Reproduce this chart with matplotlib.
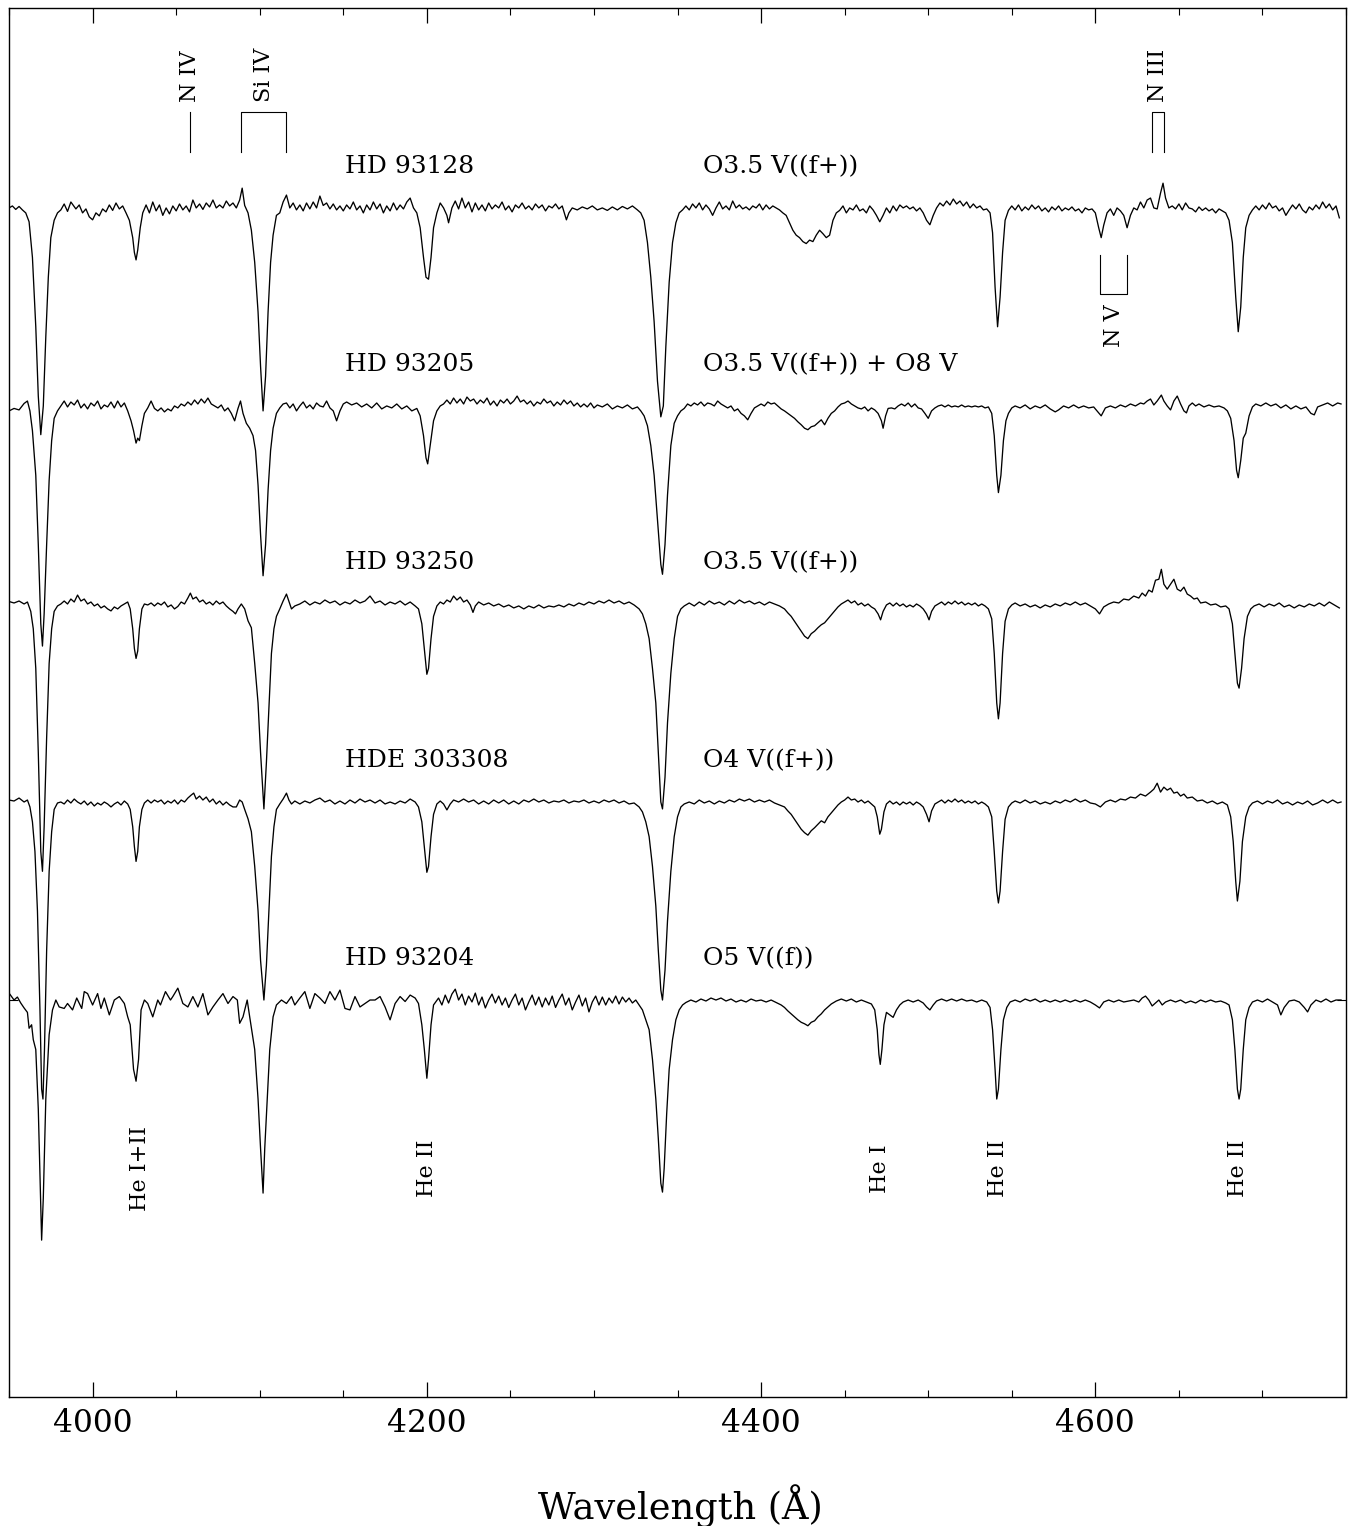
import matplotlib
matplotlib.use("Agg")
import matplotlib.pyplot as plt
from matplotlib.ticker import MultipleLocator, FixedLocator

# normalised spectra, (wavelength in A, flux)
hd93128 = [
    (3950, 1.000), (3952, 1.004), (3954, 0.997), (3956, 1.003), (3958, 0.996), (3960, 0.990),
    (3962, 0.972), (3964, 0.90), (3966, 0.76), (3967.5, 0.62), (3969, 0.542), (3970.5, 0.60),
    (3972, 0.74), (3973.5, 0.86), (3975, 0.94), (3977, 0.975), (3979, 0.99),
    (3981, 0.996), (3983, 1.008), (3985, 0.993), (3987, 1.012), (3990, 0.998), (3992, 1.006),
    (3994, 0.99), (3996, 0.998), (3998, 0.982), (4000, 0.976), (4002, 0.99), (4004, 0.984),
    (4006, 0.998), (4008, 0.992), (4010, 1.006), (4012, 0.995), (4014, 1.01), (4016, 0.998),
    (4018, 1.004), (4020, 0.99),
    (4022, 0.975), (4024, 0.94), (4025, 0.91), (4026, 0.895), (4027, 0.915), (4028.5, 0.96), (4030, 0.99),
    (4032, 1.006), (4034, 0.99), (4036, 1.012), (4038, 0.994), (4040, 1.006), (4042, 0.985),
    (4044, 1.0), (4046, 0.988), (4048, 1.004), (4050, 0.994), (4052, 1.008), (4054, 0.996),
    (4056, 1.004), (4058, 0.992), (4060, 1.016), (4062, 1.0), (4064, 1.008), (4066, 0.997),
    (4068, 1.01), (4070, 1.002), (4072, 1.016), (4074, 1.0), (4076, 1.006), (4078, 1.0),
    (4080, 1.014), (4082, 1.004), (4084, 1.01), (4086, 1.0), (4088, 1.016), (4089.5, 1.04), (4091, 1.005),
    (4093, 0.99), (4095, 0.955), (4097, 0.89), (4099, 0.79), (4100.5, 0.68), (4102, 0.59),
    (4103.5, 0.66), (4105, 0.79), (4106.5, 0.89), (4108, 0.945), (4110, 0.985), (4112, 0.99),
    (4114, 1.012), (4116, 1.026), (4118, 1.0),
    (4120, 1.01), (4122, 0.996), (4124, 1.006), (4126, 0.994), (4128, 1.01), (4130, 0.998),
    (4132, 1.012), (4134, 1.0), (4136, 1.024), (4138, 1.005), (4140, 1.01), (4142, 0.998),
    (4144, 1.008), (4146, 0.996), (4148, 1.004), (4150, 0.994), (4152, 1.006), (4154, 0.998),
    (4156, 1.012), (4158, 0.996), (4160, 1.004), (4162, 0.99), (4164, 1.006), (4166, 0.996),
    (4168, 1.012), (4170, 0.998), (4172, 1.008), (4174, 0.99), (4176, 1.004), (4178, 0.994),
    (4180, 1.01), (4182, 0.996), (4184, 1.006), (4186, 0.998), (4188, 1.012), (4190, 1.02),
    (4192, 1.0), (4194, 0.99),
    (4196, 0.96), (4198, 0.9), (4199.5, 0.86), (4201, 0.856), (4202.5, 0.9), (4204, 0.96), (4206, 0.99),
    (4208, 1.01), (4210, 1.0), (4212, 0.985), (4213, 0.97), (4215, 1.0), (4217, 1.014),
    (4219, 0.998), (4221, 1.02), (4223, 1.0), (4225, 1.012), (4227, 0.992), (4229, 1.01),
    (4231, 0.996), (4233, 1.006), (4235, 0.994), (4237, 1.01), (4239, 0.998), (4241, 1.006),
    (4243, 1.0), (4245, 1.012), (4247, 0.996), (4249, 1.004), (4251, 0.992), (4253, 1.006),
    (4255, 1.0), (4257, 1.01), (4259, 0.998), (4261, 1.004), (4263, 0.996), (4265, 1.008),
    (4267, 1.0), (4269, 1.006), (4271, 0.994), (4273, 1.004), (4275, 1.0), (4277, 1.008),
    (4279, 0.998), (4281, 1.004), (4283.5, 0.976), (4285, 0.99), (4287, 1.0), (4290, 0.996),
    (4293, 1.002), (4296, 0.998), (4299, 1.004), (4302, 0.996), (4305, 1.0), (4308, 0.995),
    (4311, 1.002), (4314, 0.996), (4317, 1.003), (4320, 0.998), (4323, 1.004), (4326, 0.996), (4328, 0.99),
    (4330, 0.975), (4332, 0.93), (4334, 0.86), (4336, 0.77), (4338, 0.65), (4340, 0.578),
    (4341.5, 0.60), (4343, 0.72), (4345, 0.85), (4347, 0.93), (4349, 0.97), (4351, 0.99), (4353, 0.996),
    (4355, 1.004), (4357, 0.996), (4359, 1.008), (4361, 1.0), (4363, 1.01), (4365, 0.996),
    (4367, 1.006), (4369, 0.998), (4371, 0.985), (4373, 1.0), (4375, 1.012), (4377, 0.998),
    (4379, 1.004), (4381, 0.996), (4383, 1.014), (4385, 1.0), (4387, 1.006), (4389, 0.998),
    (4391, 1.002), (4393, 0.996), (4395, 1.004), (4397, 1.0), (4399, 1.008), (4401, 0.996),
    (4403, 1.006), (4405, 0.998), (4407, 1.004), (4409, 1.0), (4411, 0.996), (4413, 0.99),
    (4415, 0.985), (4417, 0.97), (4419, 0.955), (4421, 0.945), (4423, 0.94), (4425, 0.932),
    (4427, 0.928), (4429, 0.935), (4431, 0.932), (4433, 0.945), (4435, 0.955), (4437, 0.948),
    (4439, 0.94), (4441, 0.945), (4443, 0.975), (4445, 0.99),
    (4447, 0.995), (4449, 1.004), (4451, 0.99), (4453, 1.0), (4455, 0.996), (4457, 1.006),
    (4459, 0.994), (4461, 0.998), (4463, 0.99), (4465, 1.004), (4467, 0.996), (4469, 0.985),
    (4471, 0.972), (4473, 0.985), (4475, 1.0), (4477, 0.99), (4479, 1.004), (4481, 0.994),
    (4483, 1.006), (4485, 1.0), (4487, 1.004), (4489, 0.998), (4491, 1.002), (4493, 0.994),
    (4495, 1.0), (4497, 0.99), (4499, 0.975), (4501, 0.966), (4503, 0.985), (4505, 1.0),
    (4507, 1.01), (4509, 1.004), (4511, 1.014), (4513, 1.006), (4515, 1.018), (4517, 1.008),
    (4519, 1.014), (4521, 1.004), (4523, 1.012), (4525, 1.0), (4527, 1.008), (4529, 1.0),
    (4531, 1.004), (4533, 0.996), (4535, 0.998),
    (4537, 0.99), (4538.5, 0.95), (4540, 0.84), (4541.5, 0.76), (4543, 0.82), (4544.5, 0.91),
    (4546, 0.975), (4548, 0.995),
    (4550, 1.004), (4552, 0.996), (4554, 1.006), (4556, 0.994), (4558, 1.002), (4560, 0.996),
    (4562, 1.006), (4564, 0.998), (4566, 1.004), (4568, 0.994), (4570, 1.0), (4572, 0.992),
    (4574, 1.002), (4576, 0.996), (4578, 1.004), (4580, 0.994), (4582, 1.0), (4584, 0.996),
    (4586, 1.002), (4588, 0.994), (4590, 0.998), (4592, 0.99), (4594, 1.0), (4596, 0.996),
    (4598, 0.998), (4600, 0.99),
    (4602, 0.96), (4603.5, 0.94), (4605, 0.965), (4607, 0.99), (4609, 0.998), (4611, 0.985),
    (4613, 1.0), (4615, 0.994), (4617, 0.985), (4619, 0.96), (4621, 0.985), (4623, 1.0),
    (4625, 0.996), (4627, 1.012), (4629, 1.0), (4631, 1.016), (4633, 1.02), (4635, 1.0),
    (4637, 0.998), (4639, 1.03), (4640.5, 1.05), (4642, 1.02), (4644, 1.0), (4646, 1.004),
    (4648, 0.998), (4650, 1.008), (4652, 0.996), (4654, 1.01), (4656, 1.0), (4658, 0.998),
    (4660, 0.992), (4662, 1.002), (4664, 0.995), (4666, 1.0), (4668, 0.994), (4670, 0.998),
    (4672, 0.99), (4674, 0.998), (4676, 0.994), (4678, 0.99),
    (4680, 0.975), (4682, 0.93), (4684, 0.82), (4685.5, 0.75), (4687, 0.8), (4688.5, 0.9),
    (4690, 0.96), (4692, 0.985), (4694, 0.996),
    (4696, 1.004), (4698, 0.996), (4700, 1.006), (4702, 0.998), (4704, 1.01), (4706, 1.0),
    (4708, 1.004), (4710, 0.994), (4712, 1.0), (4714, 0.985), (4716, 0.996), (4718, 1.006),
    (4720, 0.998), (4722, 1.008), (4724, 0.996), (4726, 0.99), (4728, 1.002), (4730, 0.996),
    (4732, 1.006), (4734, 0.998), (4736, 1.012), (4738, 1.0), (4740, 1.008), (4742, 0.996),
    (4744, 1.004), (4746, 0.98),
]

hd93205 = [
    (3950, 0.99), (3953, 0.995), (3956, 0.992), (3959, 1.005), (3961, 1.01), (3962.5, 0.99),
    (3964, 0.95), (3966, 0.86), (3967.5, 0.72), (3969, 0.56), (3970, 0.515), (3971, 0.58),
    (3972.5, 0.72), (3974, 0.85), (3975.5, 0.93), (3977, 0.975), (3979, 0.99), (3981, 1.0),
    (3983, 1.01), (3985, 0.998), (3987, 1.008), (3989, 1.002), (3991, 1.012), (3993, 0.996),
    (3995, 1.004), (3997, 0.994), (3999, 1.006), (4001, 1.0), (4003, 1.01), (4005, 0.994),
    (4007, 1.002), (4009, 0.998), (4011, 1.008), (4013, 0.996), (4015, 1.01), (4017, 0.998),
    (4019, 1.006), (4021, 0.99),
    (4023, 0.97), (4024.5, 0.95), (4026, 0.925), (4027, 0.935), (4028, 0.93), (4029.5, 0.96),
    (4031, 0.985), (4033, 0.996), (4035, 1.01),
    (4037, 0.995), (4039, 0.99), (4041, 0.996), (4043, 0.988), (4045, 0.994), (4047, 0.99),
    (4049, 1.0), (4051, 0.996), (4053, 1.004), (4055, 1.0), (4057, 1.008), (4059, 1.002),
    (4061, 1.012), (4063, 1.004), (4065, 1.014), (4067, 1.006), (4069, 1.016), (4071, 1.004),
    (4073, 1.0), (4075, 0.996), (4077, 1.002), (4079, 0.99), (4081, 0.996), (4083, 0.985),
    (4085, 0.97), (4087, 0.995), (4088.5, 1.01),
    (4090, 0.985), (4092, 0.965), (4094, 0.955), (4096, 0.94), (4097.5, 0.91), (4099, 0.84),
    (4100.5, 0.74), (4102, 0.657), (4103.5, 0.72), (4105, 0.83), (4106.5, 0.91), (4108, 0.955),
    (4110, 0.985), (4112, 0.996), (4114, 1.004), (4116, 1.006),
    (4118, 0.996), (4120, 1.004), (4122, 0.99), (4124, 1.0), (4126, 1.008), (4128, 0.996),
    (4130, 1.002), (4132, 0.994), (4134, 1.006), (4136, 1.0), (4138, 0.998), (4140, 1.01),
    (4142, 0.996), (4144, 0.99), (4146, 0.97), (4148, 0.99), (4150, 1.004), (4152, 1.008),
    (4155, 1.002), (4158, 1.006), (4161, 0.998), (4164, 1.004), (4167, 0.996), (4170, 1.006),
    (4173, 0.994), (4176, 1.0), (4179, 0.996), (4182, 1.004), (4185, 0.994), (4188, 1.0),
    (4191, 0.99), (4194, 0.995),
    (4196, 0.98), (4198, 0.94), (4199.5, 0.895), (4200.5, 0.883), (4202, 0.92), (4204, 0.97),
    (4206, 0.99), (4208, 1.0), (4210, 1.004),
    (4212, 1.012), (4214, 1.004), (4216, 1.016), (4218, 1.006), (4220, 1.014), (4222, 1.004),
    (4224, 1.018), (4226, 1.01), (4228, 1.014), (4230, 1.004), (4232, 1.012), (4234, 1.006),
    (4236, 1.016), (4238, 1.002), (4240, 1.01), (4242, 1.0), (4244, 1.012), (4246, 1.006),
    (4248, 1.014), (4250, 1.004), (4252, 1.01), (4254, 1.02), (4256, 1.008), (4258, 1.012),
    (4260, 1.004), (4262, 1.01), (4264, 1.0), (4266, 1.008), (4268, 1.004), (4270, 1.014),
    (4272, 1.006), (4274, 1.01), (4276, 1.0), (4278, 1.008), (4280, 1.002), (4282, 1.012),
    (4284, 1.004), (4286, 1.01), (4288, 1.0), (4290, 1.006), (4292, 0.998), (4294, 1.004),
    (4296, 0.998), (4298, 1.006), (4300, 0.996), (4302, 1.002), (4305, 0.998), (4308, 1.004),
    (4311, 0.994), (4314, 1.0), (4317, 0.996), (4320, 1.002), (4323, 0.994), (4326, 0.998), (4328, 0.99),
    (4330, 0.98), (4332, 0.96), (4334, 0.92), (4336, 0.86), (4338, 0.77), (4340, 0.68),
    (4341, 0.66), (4342.5, 0.72), (4344, 0.82), (4346, 0.92), (4348, 0.965), (4350, 0.98),
    (4352, 0.99), (4354, 0.995),
    (4356, 1.004), (4358, 1.0), (4360, 1.006), (4362, 1.002), (4364, 1.008), (4366, 1.0),
    (4368, 1.006), (4370, 1.004), (4372, 1.0), (4374, 1.01), (4376, 1.004), (4378, 1.0),
    (4380, 0.996), (4382, 1.0), (4384, 0.99), (4386, 0.994), (4388, 0.985), (4390, 0.98),
    (4392, 0.972), (4394, 0.985), (4396, 0.996), (4398, 1.0), (4400, 1.004), (4402, 1.0),
    (4404, 1.008), (4406, 1.004), (4408, 1.006), (4410, 1.0), (4412, 0.994),
    (4414, 0.99), (4416, 0.985), (4418, 0.98), (4420, 0.975), (4422, 0.968), (4424, 0.962),
    (4426, 0.955), (4428, 0.952), (4430, 0.958), (4432, 0.96), (4434, 0.966), (4436, 0.972),
    (4438, 0.962), (4440, 0.975), (4442, 0.985), (4444, 0.99), (4446, 0.998), (4448, 1.004),
    (4450, 1.006), (4452, 1.01), (4454, 1.004), (4456, 1.0), (4458, 0.996), (4460, 0.994),
    (4462, 0.998), (4464, 0.99), (4466, 0.996), (4468, 0.992), (4470, 0.985), (4472, 0.97),
    (4473, 0.955), (4474.5, 0.98), (4476, 0.995), (4478, 0.996), (4480, 0.994), (4482, 1.0),
    (4484, 1.004), (4486, 1.0), (4488, 1.006), (4490, 0.998), (4492, 1.004), (4494, 0.996),
    (4496, 0.994), (4498, 0.985), (4500, 0.975), (4502, 0.99), (4504, 0.996), (4506, 1.0),
    (4508, 1.002), (4510, 0.998), (4512, 1.002), (4514, 0.998), (4516, 1.0), (4518, 0.998),
    (4520, 1.002), (4522, 0.998), (4524, 1.0), (4526, 0.998), (4528, 1.0), (4530, 0.998),
    (4532, 1.0), (4534, 0.996), (4536, 0.998),
    (4538, 0.985), (4539.5, 0.94), (4541, 0.86), (4542, 0.825), (4543.5, 0.86), (4545, 0.93),
    (4546.5, 0.97), (4548, 0.985), (4550, 0.996),
    (4552, 1.0), (4555, 0.996), (4558, 1.002), (4561, 0.994), (4564, 1.0), (4567, 0.996),
    (4570, 1.002), (4573, 0.994), (4576, 0.988), (4578, 0.992), (4581, 1.0), (4584, 0.996),
    (4587, 1.002), (4590, 0.996), (4593, 1.0), (4596, 0.996), (4599, 0.998), (4601, 0.99),
    (4603.5, 0.98), (4606, 0.996), (4609, 1.0), (4612, 0.996), (4615, 1.002), (4618, 0.998),
    (4621, 1.004), (4624, 1.0), (4627, 1.006),
    (4629, 1.004), (4631, 1.01), (4633, 1.014), (4635, 1.002), (4637, 1.01), (4639.5, 1.022),
    (4641, 1.01), (4643, 1.0), (4645, 0.992), (4647, 1.01), (4649, 1.02), (4651, 1.004),
    (4653, 0.99), (4654.5, 0.986), (4656, 1.0), (4658, 1.006), (4660, 1.0), (4662, 1.004),
    (4665, 0.998), (4668, 1.002), (4671, 0.998), (4674, 1.0), (4677, 0.996), (4679, 0.99),
    (4681, 0.975), (4683, 0.93), (4684.5, 0.87), (4685.5, 0.855), (4687, 0.89), (4688.5, 0.935),
    (4690, 0.945), (4692, 0.98), (4694, 0.998),
    (4696, 1.004), (4699, 1.0), (4702, 1.006), (4705, 1.0), (4708, 1.004), (4711, 0.996),
    (4714, 1.002), (4717, 0.994), (4720, 1.0), (4723, 0.994), (4726, 0.998), (4729, 0.985),
    (4731, 0.982), (4733, 0.998), (4736, 1.002), (4739, 1.006), (4742, 1.0), (4745, 1.006), (4747, 1.004),
]

hd93250 = [
    (3950, 1.005), (3953, 1.002), (3956, 1.006), (3959, 1.0), (3961, 1.004), (3963, 0.985),
    (3964.5, 0.95), (3966, 0.87), (3967.5, 0.7), (3969, 0.5), (3970, 0.46), (3971, 0.55),
    (3972.5, 0.73), (3974, 0.88), (3975.5, 0.95), (3977, 0.985), (3979, 0.996),
    (3981, 1.0), (3983, 1.006), (3985, 1.0), (3987, 1.01), (3989, 1.004), (3991, 1.018),
    (3993, 1.006), (3995, 1.01), (3997, 1.0), (3999, 1.004), (4001, 0.996), (4003, 1.0),
    (4005, 0.992), (4007, 0.996), (4009, 0.99), (4011, 0.986), (4013, 0.994), (4015, 0.99),
    (4017, 0.996), (4019, 1.0), (4021, 1.004), (4022.5, 0.99),
    (4024, 0.95), (4025, 0.91), (4026, 0.89), (4027, 0.905), (4028, 0.95), (4029.5, 0.99), (4031, 1.0),
    (4033, 0.998), (4035, 1.002), (4037, 0.996), (4039, 1.002), (4041, 0.998), (4043, 1.004),
    (4045, 0.994), (4047, 0.998), (4049, 0.99), (4051, 0.995), (4053, 1.004), (4055, 1.0),
    (4057, 1.012), (4058.5, 1.022), (4060, 1.01), (4062, 1.014), (4064, 1.004), (4066, 1.008),
    (4068, 1.0), (4070, 1.004), (4072, 0.998), (4074, 1.006), (4076, 1.0), (4078, 1.004),
    (4080, 0.996), (4082, 0.99), (4084, 0.985), (4085.5, 0.98), (4087, 0.99), (4089, 1.0),
    (4091, 0.99), (4093, 0.966), (4095, 0.952), (4097, 0.88), (4099, 0.8), (4100.5, 0.7),
    (4102.5, 0.586), (4104, 0.68), (4105.5, 0.79), (4107, 0.9), (4108.5, 0.95), (4110, 0.975),
    (4112, 0.99), (4114, 1.006), (4116, 1.02), (4117.5, 1.005), (4119, 0.99),
    (4121, 0.996), (4124, 1.0), (4127, 1.006), (4130, 0.998), (4133, 1.004), (4136, 1.0),
    (4139, 1.008), (4142, 1.002), (4145, 1.006), (4148, 0.998), (4151, 1.004), (4154, 1.0),
    (4157, 1.008), (4160, 1.002), (4163, 1.006), (4166, 1.016), (4169, 1.002), (4172, 1.006),
    (4175, 0.998), (4178, 1.004), (4181, 1.0), (4184, 1.006), (4187, 0.998), (4190, 1.004),
    (4193, 0.996), (4195, 0.99),
    (4197, 0.96), (4198.5, 0.91), (4200, 0.858), (4201, 0.87), (4202.5, 0.93), (4204, 0.975), (4206, 0.996),
    (4208, 1.004), (4210, 1.0), (4212, 1.008), (4214, 1.004), (4216, 1.016), (4218, 1.008),
    (4220, 1.014), (4222, 1.004), (4224, 1.008), (4226, 0.998), (4227.6, 0.983), (4229, 0.996),
    (4231, 1.004), (4234, 0.998), (4237, 1.002), (4240, 0.996), (4243, 1.0), (4246, 0.994),
    (4249, 0.998), (4252, 0.992), (4255, 0.996), (4258, 0.99), (4261, 0.996), (4264, 0.992),
    (4267, 0.998), (4270, 0.992), (4273, 0.996), (4276, 0.994), (4279, 0.998), (4282, 0.994),
    (4285, 1.0), (4288, 0.996), (4291, 1.002), (4294, 0.998), (4297, 1.004), (4300, 1.0),
    (4303, 1.006), (4306, 1.002), (4309, 1.008), (4312, 1.002), (4315, 1.006), (4318, 1.0),
    (4321, 1.004), (4324, 0.998), (4327, 0.99),
    (4329, 0.98), (4331, 0.96), (4333, 0.93), (4335, 0.87), (4337, 0.8), (4338.5, 0.7),
    (4340, 0.6), (4341, 0.586), (4342.5, 0.65), (4344, 0.76), (4346, 0.86), (4348, 0.93),
    (4350, 0.975), (4352, 0.99), (4354, 0.996),
    (4357, 1.002), (4360, 0.996), (4363, 1.004), (4366, 0.998), (4369, 1.006), (4372, 1.0),
    (4375, 1.004), (4378, 0.998), (4381, 1.006), (4384, 1.0), (4387, 1.008), (4390, 1.002),
    (4393, 1.006), (4396, 1.0), (4399, 1.004), (4402, 0.998), (4405, 1.004), (4408, 1.0),
    (4411, 0.996), (4414, 0.99),
    (4416, 0.982), (4418, 0.975), (4420, 0.965), (4422, 0.955), (4424, 0.945), (4426, 0.935),
    (4428, 0.93), (4430, 0.94), (4432, 0.945), (4434, 0.952), (4436, 0.958), (4438, 0.962),
    (4440, 0.97), (4442, 0.978), (4444, 0.986), (4446, 0.994), (4448, 1.0), (4450, 1.004),
    (4452, 1.008), (4454, 1.002), (4456, 1.006), (4458, 0.998), (4460, 1.002), (4462, 0.996),
    (4464, 1.0), (4466, 0.994), (4468, 0.99), (4470, 0.98), (4471.5, 0.968), (4473, 0.985),
    (4475, 0.998), (4477, 1.002), (4479, 0.996), (4481, 1.002), (4483, 0.996), (4485, 1.0),
    (4487, 0.994), (4489, 0.998), (4491, 0.994), (4493, 1.0), (4495, 0.996), (4497, 0.99),
    (4499, 0.98), (4500.5, 0.968), (4502, 0.985), (4504, 0.996), (4506, 1.0), (4508, 1.004),
    (4510, 0.998), (4512, 1.004), (4514, 1.0), (4516, 1.006), (4518, 1.0), (4520, 1.004),
    (4522, 0.998), (4524, 1.002), (4526, 0.998), (4528, 1.002), (4530, 0.996), (4532, 1.0),
    (4534, 0.996), (4536, 0.99),
    (4538, 0.97), (4539.5, 0.9), (4541, 0.8), (4542, 0.768), (4543, 0.8), (4544.5, 0.9),
    (4546, 0.965), (4548, 0.99), (4550, 0.998),
    (4552, 1.002), (4555, 0.996), (4558, 1.0), (4561, 0.994), (4564, 0.998), (4567, 0.992),
    (4570, 0.998), (4573, 0.994), (4576, 1.0), (4579, 0.996), (4582, 1.002), (4585, 0.998),
    (4588, 1.004), (4591, 0.998), (4594, 1.002), (4597, 0.996), (4600, 0.99), (4602.5, 0.98),
    (4605, 0.994), (4608, 1.0), (4611, 1.004), (4614, 1.002), (4617, 1.01), (4620, 1.008),
    (4623, 1.016), (4626, 1.012), (4628, 1.022), (4630, 1.016), (4632, 1.028), (4634, 1.024),
    (4636, 1.048), (4638, 1.05), (4639.5, 1.07), (4641, 1.04), (4643, 1.03), (4645, 1.04),
    (4647, 1.05), (4649, 1.03), (4651, 1.026), (4653, 1.034), (4655, 1.02), (4657, 1.016),
    (4659, 1.01), (4661, 1.012), (4663, 1.002), (4666, 1.004), (4669, 0.998), (4672, 1.0),
    (4675, 0.994), (4678, 0.996), (4680, 0.99),
    (4682, 0.96), (4683.5, 0.9), (4685, 0.84), (4686, 0.83), (4687.5, 0.87), (4689, 0.93),
    (4691, 0.975), (4693, 0.99), (4695, 0.996),
    (4698, 1.0), (4701, 0.994), (4704, 1.0), (4707, 0.996), (4710, 1.002), (4713, 0.994),
    (4716, 0.998), (4719, 0.992), (4722, 0.998), (4725, 0.994), (4728, 1.0), (4731, 0.996),
    (4734, 1.002), (4737, 0.996), (4740, 1.004), (4743, 0.998), (4746, 0.992),
]

hde303308 = [
    (3950, 1.004), (3953, 1.002), (3956, 1.008), (3959, 1.0), (3961, 1.004), (3962.5, 0.99),
    (3964, 0.96), (3965.5, 0.9), (3967, 0.78), (3968.5, 0.58), (3969.5, 0.42), (3970.3, 0.40),
    (3971.2, 0.5), (3972.5, 0.7), (3974, 0.86), (3975.5, 0.94), (3977, 0.985), (3979, 0.998),
    (3981, 1.0), (3983, 0.996), (3985, 1.004), (3987, 0.998), (3989, 1.006), (3991, 1.0),
    (3993, 0.996), (3995, 1.002), (3997, 0.994), (3999, 1.0), (4001, 0.992), (4003, 0.998),
    (4005, 0.994), (4007, 1.0), (4009, 0.996), (4011, 0.99), (4013, 0.996), (4015, 1.0),
    (4017, 0.994), (4019, 1.002), (4021, 0.996), (4022.5, 0.985),
    (4024, 0.95), (4025, 0.91), (4026, 0.88), (4027, 0.9), (4028, 0.95), (4029.5, 0.985), (4031, 0.998),
    (4033, 1.004), (4035, 0.998), (4037, 1.004), (4039, 1.0), (4041, 1.004), (4043, 0.996),
    (4045, 1.002), (4047, 0.998), (4049, 1.004), (4051, 0.996), (4053, 1.004), (4055, 1.0),
    (4057, 1.008), (4059, 1.014), (4060.5, 1.018), (4062, 1.006), (4064, 1.012), (4066, 1.004),
    (4068, 1.01), (4070, 1.0), (4072, 1.006), (4074, 0.996), (4076, 1.002), (4078, 0.994),
    (4080, 1.0), (4082, 0.994), (4084, 0.99), (4086, 0.99), (4088, 1.004), (4089.5, 1.0),
    (4091, 0.985), (4093, 0.966), (4095, 0.94), (4097, 0.87), (4099, 0.78), (4100.5, 0.68),
    (4102.5, 0.6), (4104, 0.67), (4105.5, 0.78), (4107, 0.89), (4108.5, 0.95), (4110, 0.985),
    (4112, 0.996), (4114, 1.006), (4116, 1.018), (4117.5, 1.004), (4119, 0.996),
    (4121, 1.002), (4124, 0.996), (4127, 1.002), (4130, 0.998), (4133, 1.004), (4136, 1.008),
    (4139, 1.0), (4142, 1.004), (4145, 0.996), (4148, 1.002), (4151, 0.996), (4154, 1.004),
    (4157, 0.998), (4160, 1.006), (4163, 1.0), (4166, 1.004), (4169, 0.998), (4172, 1.004),
    (4175, 0.996), (4178, 1.0), (4181, 0.996), (4184, 1.002), (4187, 0.998), (4190, 1.006),
    (4193, 1.0), (4195, 0.99),
    (4197, 0.96), (4198.5, 0.91), (4200, 0.858), (4201, 0.87), (4202.5, 0.93), (4204, 0.975), (4206, 0.996),
    (4208, 1.002), (4210, 0.996), (4212, 0.984), (4214, 0.996), (4216, 1.004), (4219, 1.0),
    (4222, 1.006), (4225, 1.0), (4228, 1.004), (4231, 0.996), (4234, 1.002), (4237, 0.996),
    (4240, 1.004), (4243, 0.998), (4246, 1.004), (4249, 0.996), (4252, 1.002), (4255, 0.996),
    (4258, 1.004), (4261, 1.0), (4264, 1.006), (4267, 1.0), (4270, 1.004), (4273, 0.998),
    (4276, 1.002), (4279, 1.0), (4282, 1.004), (4285, 0.998), (4288, 1.002), (4291, 1.0),
    (4294, 1.004), (4297, 0.998), (4300, 1.002), (4303, 0.998), (4306, 1.004), (4309, 1.0),
    (4312, 1.004), (4315, 0.998), (4318, 1.002), (4321, 0.996), (4324, 0.998), (4327, 0.99),
    (4329, 0.98), (4331, 0.96), (4333, 0.93), (4335, 0.87), (4337, 0.79), (4338.5, 0.7),
    (4340, 0.62), (4341, 0.60), (4342.5, 0.66), (4344, 0.76), (4346, 0.86), (4348, 0.93),
    (4350, 0.97), (4352, 0.99), (4354, 0.996),
    (4357, 1.0), (4360, 0.996), (4363, 1.004), (4366, 0.998), (4369, 1.002), (4372, 0.996),
    (4375, 1.002), (4378, 0.998), (4381, 1.004), (4384, 1.0), (4387, 1.006), (4390, 1.002),
    (4393, 1.006), (4396, 1.0), (4399, 1.004), (4402, 1.0), (4405, 1.004), (4408, 0.998),
    (4411, 0.994), (4414, 0.99),
    (4416, 0.982), (4418, 0.975), (4420, 0.965), (4422, 0.955), (4424, 0.945), (4426, 0.938),
    (4428, 0.933), (4430, 0.942), (4432, 0.948), (4434, 0.955), (4436, 0.962), (4438, 0.958),
    (4440, 0.97), (4442, 0.978), (4444, 0.986), (4446, 0.994), (4448, 1.0), (4450, 1.004),
    (4452, 1.01), (4454, 1.004), (4456, 1.006), (4458, 1.0), (4460, 1.004), (4462, 0.998),
    (4464, 1.002), (4466, 0.996), (4468, 0.99), (4469.5, 0.97), (4471, 0.935), (4472, 0.945),
    (4473.5, 0.98), (4475, 0.996), (4477, 1.002), (4479, 0.996), (4481, 1.0), (4483, 0.994),
    (4485, 1.0), (4487, 0.996), (4489, 1.0), (4491, 0.994), (4493, 1.0), (4495, 0.996),
    (4497, 0.99), (4499, 0.975), (4500.5, 0.96), (4502, 0.982), (4504, 0.996), (4506, 1.0),
    (4508, 1.004), (4510, 0.998), (4512, 1.004), (4514, 1.0), (4516, 1.006), (4518, 1.0),
    (4520, 1.004), (4522, 0.998), (4524, 1.002), (4526, 0.998), (4528, 1.002), (4530, 0.996),
    (4532, 1.0), (4534, 0.996), (4536, 0.99),
    (4538, 0.97), (4539.5, 0.9), (4541, 0.82), (4542, 0.796), (4543, 0.82), (4544.5, 0.9),
    (4546, 0.965), (4548, 0.99), (4550, 0.998),
    (4552, 1.002), (4555, 0.998), (4558, 1.004), (4561, 0.998), (4564, 1.002), (4567, 0.996),
    (4570, 1.0), (4573, 0.996), (4576, 1.002), (4579, 0.998), (4582, 1.004), (4585, 1.0),
    (4588, 1.006), (4591, 1.0), (4594, 1.004), (4597, 0.998), (4600, 0.996), (4603, 0.99),
    (4606, 1.0), (4609, 1.004), (4612, 1.0), (4615, 1.006), (4618, 1.004), (4621, 1.01),
    (4624, 1.008), (4627, 1.016), (4630, 1.012), (4633, 1.02), (4635, 1.026), (4637, 1.038),
    (4639, 1.02), (4641, 1.03), (4643, 1.024), (4645, 1.028), (4647, 1.018), (4649, 1.02),
    (4651, 1.012), (4653, 1.016), (4655, 1.008), (4658, 1.01), (4661, 1.002), (4664, 1.004),
    (4667, 0.998), (4670, 1.002), (4673, 0.996), (4676, 1.0), (4679, 0.994),
    (4681, 0.97), (4682.5, 0.92), (4684, 0.84), (4685, 0.8), (4686.5, 0.84), (4688, 0.92),
    (4690, 0.97), (4692, 0.99), (4694, 0.998),
    (4697, 1.002), (4700, 0.996), (4703, 1.002), (4706, 0.998), (4709, 1.004), (4712, 0.996),
    (4715, 1.0), (4718, 0.994), (4721, 1.0), (4724, 0.996), (4727, 1.002), (4730, 0.994),
    (4733, 0.998), (4736, 1.004), (4739, 0.998), (4742, 1.004), (4745, 0.998), (4747, 1.0),
]

hd93204 = [
    (3950, 1.014), (3953, 1.0), (3955, 1.006), (3957, 0.994), (3959, 0.984), (3961, 0.975),
    (3962, 0.943), (3963.5, 0.95), (3964.5, 0.92), (3966, 0.9), (3967.5, 0.78), (3968.5, 0.65),
    (3969.5, 0.515), (3970.5, 0.6), (3972, 0.8), (3974, 0.93), (3976, 0.98), (3978, 1.0),
    (3980, 0.986), (3983, 0.983), (3985, 0.993), (3988, 0.98), (3990.5, 1.004), (3993.5, 0.983),
    (3995, 1.017), (3997, 1.013), (4000, 0.99), (4003, 1.013), (4005, 0.983), (4007, 1.004),
    (4010, 0.97), (4013, 1.0), (4016, 1.007), (4019, 0.993), (4021, 0.966),
    (4022.5, 0.95), (4024.5, 0.86), (4026, 0.836), (4027.5, 0.88), (4029, 0.98), (4031, 1.0),
    (4033, 0.993), (4036, 0.966), (4039, 1.0), (4040.6, 0.99), (4043.6, 1.017), (4046.6, 1.0),
    (4048, 1.007), (4051, 1.024), (4054, 0.993), (4057, 0.986), (4060, 1.007), (4063, 0.986),
    (4066, 1.013), (4069, 0.97), (4072, 0.986), (4075, 1.0), (4078, 1.013), (4081, 0.993),
    (4084, 1.007), (4086.6, 1.0), (4088, 0.953), (4090, 0.966), (4092.5, 1.0),
    (4094, 0.966), (4097, 0.9), (4099, 0.8), (4100.5, 0.7), (4102, 0.61), (4103, 0.7),
    (4104.5, 0.8), (4106, 0.9), (4108, 0.966), (4110, 0.99), (4113, 1.0),
    (4116, 0.993), (4119, 1.007), (4121, 0.99), (4124, 1.004), (4127, 1.017), (4130, 0.983),
    (4133, 1.013), (4136, 1.004), (4139, 0.993), (4142, 1.017), (4145, 1.0), (4148, 1.02),
    (4151, 0.983), (4154, 0.98), (4157, 1.007), (4160, 0.986), (4163, 0.993), (4166, 1.0),
    (4169, 1.0), (4172, 1.007), (4175, 0.986), (4178, 0.96), (4181, 0.993), (4184, 1.007),
    (4187, 0.997), (4190, 1.01), (4193, 1.004), (4195, 0.993),
    (4197, 0.95), (4198.5, 0.9), (4200, 0.842), (4201, 0.88), (4202.5, 0.95), (4204, 0.99), (4207, 1.004),
    (4209, 0.99), (4211, 1.01), (4213, 0.994), (4215, 1.012), (4217, 1.022), (4219, 1.0),
    (4221, 1.012), (4223, 0.99), (4225, 1.008), (4227, 0.996), (4229, 1.014), (4231, 0.99),
    (4233, 1.006), (4235, 0.984), (4237, 1.0), (4239, 1.012), (4241, 0.994), (4243, 1.008),
    (4245, 0.99), (4247, 1.004), (4249, 0.985), (4251, 1.0), (4253, 1.012), (4255, 0.99),
    (4257, 1.004), (4259, 0.98), (4261, 0.996), (4263, 1.01), (4265, 0.99), (4267, 1.006),
    (4269, 0.986), (4271, 1.004), (4273, 0.99), (4275, 1.008), (4277, 0.985), (4279, 1.0),
    (4281, 1.012), (4283, 0.99), (4285, 1.004), (4287, 0.98), (4289, 0.996), (4291, 1.01),
    (4293, 0.988), (4295, 1.004), (4297, 0.976), (4299, 0.996), (4301, 1.008), (4303, 0.99),
    (4305, 1.006), (4307, 0.99), (4309, 1.004), (4311, 0.994), (4313, 1.008), (4315, 0.992),
    (4317, 1.006), (4319, 0.996), (4321, 1.004), (4323, 0.994), (4325, 1.0), (4327, 0.99), (4329, 0.98),
    (4331, 0.96), (4333, 0.94), (4335, 0.88), (4337, 0.8), (4338.5, 0.72), (4340, 0.63),
    (4341, 0.612), (4342, 0.66), (4343.5, 0.77), (4345, 0.86), (4347, 0.92), (4349, 0.96),
    (4351, 0.98), (4353, 0.99), (4355, 0.995),
    (4358, 1.0), (4361, 0.996), (4364, 1.002), (4367, 0.998), (4370, 1.004), (4373, 1.0),
    (4376, 1.004), (4379, 0.998), (4382, 1.002), (4385, 0.996), (4388, 1.0), (4391, 0.996),
    (4394, 1.002), (4397, 0.998), (4400, 1.0), (4403, 0.996), (4406, 1.0), (4409, 0.995), (4412, 0.99),
    (4414, 0.985), (4416, 0.978), (4418, 0.972), (4420, 0.966), (4422, 0.96), (4424, 0.955),
    (4426, 0.952), (4428, 0.948), (4430, 0.955), (4432, 0.958), (4434, 0.966), (4436, 0.972),
    (4438, 0.98), (4440, 0.986), (4442, 0.992), (4445, 0.998), (4448, 1.002), (4451, 0.998),
    (4454, 1.002), (4457, 0.996), (4460, 1.0), (4463, 0.996), (4466, 0.992), (4468, 0.98),
    (4469.5, 0.94), (4470.5, 0.89), (4471.3, 0.87), (4472.3, 0.9), (4473.5, 0.95), (4475, 0.975),
    (4477, 0.97), (4479, 0.965), (4481, 0.98), (4483, 0.99), (4485, 0.996), (4488, 1.0),
    (4491, 0.996), (4494, 1.0), (4497, 0.994), (4499, 0.986), (4501, 0.98), (4503, 0.99),
    (4505, 0.998), (4508, 1.002), (4511, 0.998), (4514, 1.002), (4517, 0.998), (4520, 1.002),
    (4523, 0.998), (4526, 1.0), (4529, 0.996), (4532, 1.0), (4535, 0.996),
    (4537, 0.985), (4538.5, 0.94), (4540, 0.86), (4541, 0.8), (4542, 0.82), (4543.5, 0.9),
    (4545, 0.96), (4547, 0.985), (4549, 0.996),
    (4552, 1.0), (4555, 0.996), (4558, 1.002), (4561, 0.998), (4564, 1.002), (4567, 0.996),
    (4570, 1.0), (4573, 0.996), (4576, 1.0), (4579, 0.996), (4582, 1.0), (4585, 0.996),
    (4588, 1.0), (4591, 0.996), (4594, 1.0), (4597, 0.996), (4600, 0.99), (4602.5, 0.984),
    (4605, 0.996), (4608, 1.0), (4611, 0.996), (4614, 1.0), (4617, 0.996), (4620, 0.998),
    (4623, 1.0), (4626, 0.996), (4628, 1.004), (4630, 1.008), (4632, 1.0), (4634, 0.988),
    (4636, 0.994), (4638, 1.0), (4640, 0.99), (4642, 0.996), (4645, 1.0), (4648, 0.996),
    (4651, 1.0), (4654, 0.994), (4657, 0.998), (4660, 0.994), (4663, 1.0), (4666, 0.996),
    (4669, 1.0), (4672, 0.996), (4675, 0.998), (4678, 0.994), (4680, 0.99),
    (4682, 0.96), (4683.5, 0.9), (4685, 0.82), (4686, 0.8), (4687, 0.82), (4688.5, 0.9),
    (4690, 0.96), (4692, 0.985), (4694, 0.996),
    (4697, 1.0), (4700, 0.996), (4703, 1.002), (4706, 0.996), (4709, 0.99), (4711, 0.97),
    (4713, 0.985), (4716, 0.998), (4719, 1.0), (4722, 0.996), (4725, 0.985), (4727, 0.976),
    (4729, 0.99), (4732, 1.0), (4735, 0.996), (4738, 1.002), (4741, 0.996), (4744, 1.0), (4747, 1.0),
]

spectra = [hd93128, hd93205, hd93250, hde303308, hd93204]
offsets = [1.6, 1.2, 0.8, 0.4, 0.0]
star_names = ["HD 93128", "HD 93205", "HD 93250", "HDE 303308", "HD 93204"]
sp_types = ["O3.5 V((f+))", "O3.5 V((f+)) + O8 V", "O3.5 V((f+))", "O4 V((f+))", "O5 V((f))"]

# line identifications under the bottom spectrum
he_labels = ["He I+II", "He II", "He I", "He II", "He II"]
he_waves = [4028.5, 4200, 4471, 4542, 4685.5]

# markers above the top spectrum: (label, wavelengths)
top_marks = [("N IV", [4058.5]), ("Si IV", [4089, 4116]), ("N III", [4634, 4641])]
nv_waves = [4603, 4619]

FONT = "DejaVu Serif"


def plot_spectra(ax):
    for pairs, off in zip(spectra, offsets):
        wl = [p[0] for p in pairs]
        fl = [p[1] + off for p in pairs]
        ax.plot(wl, fl, color="black", lw=0.95)

    for name, typ, off in zip(star_names, sp_types, offsets):
        ax.text(4151, off + 1.083, name, fontsize=18, family=FONT, va="center", ha="left")
        ax.text(4365, off + 1.083, typ, fontsize=18, family=FONT, va="center", ha="left")


def mark_lines(ax):
    lo, hi = 2.713, 2.794
    for label, waves in top_marks:
        if len(waves) == 1:
            ax.plot([waves[0], waves[0]], [lo, hi], color="black", lw=0.8)
        else:
            ax.plot([waves[0], waves[0], waves[1], waves[1]], [lo, hi, hi, lo], color="black", lw=0.8)
        ax.text(sum(waves) / len(waves), hi + 0.02, label, rotation=90, fontsize=16,
                family=FONT, ha="center", va="bottom")

    # N V bracket hangs below the top spectrum
    ax.plot([nv_waves[0], nv_waves[0], nv_waves[1], nv_waves[1]],
            [2.505, 2.426, 2.426, 2.505], color="black", lw=0.8)
    ax.text(sum(nv_waves) / 2, 2.405, "N V", rotation=90, fontsize=16,
            family=FONT, ha="center", va="top")

    for label, w in zip(he_labels, he_waves):
        ax.text(w, 0.66, label, rotation=90, fontsize=16, family=FONT,
                ha="center", va="center")


fig = plt.figure(figsize=(13.49, 15.26), dpi=100)
ax = fig.add_axes([0.0067, 0.0845, 0.9911, 0.9103])

plot_spectra(ax)
mark_lines(ax)

ax.set_xlim(3950, 4750)
ax.set_ylim(0.198, 3.004)
ax.xaxis.set_major_locator(FixedLocator([4000, 4200, 4400, 4600]))
ax.xaxis.set_minor_locator(MultipleLocator(50))
ax.yaxis.set_major_locator(FixedLocator([1.0]))
ax.set_yticklabels([])
ax.tick_params(axis="x", which="major", direction="in", length=10.8, width=0.9,
               top=True, bottom=True, labelsize=22.5, pad=8)
ax.tick_params(axis="x", which="minor", direction="in", length=5, width=0.8,
               top=True, bottom=True)
ax.tick_params(axis="y", which="major", direction="in", length=6.5, width=0.8,
               left=True, right=True)
for lab in ax.get_xticklabels():
    lab.set_family(FONT)
for sp in ax.spines.values():
    sp.set_linewidth(1.0)

ax.set_xlabel("Wavelength (Å)", fontsize=26.5, family=FONT)
ax.xaxis.set_label_coords(0.502, -0.063)

plt.savefig("out.png", dpi=100, facecolor="white")
plt.close()
